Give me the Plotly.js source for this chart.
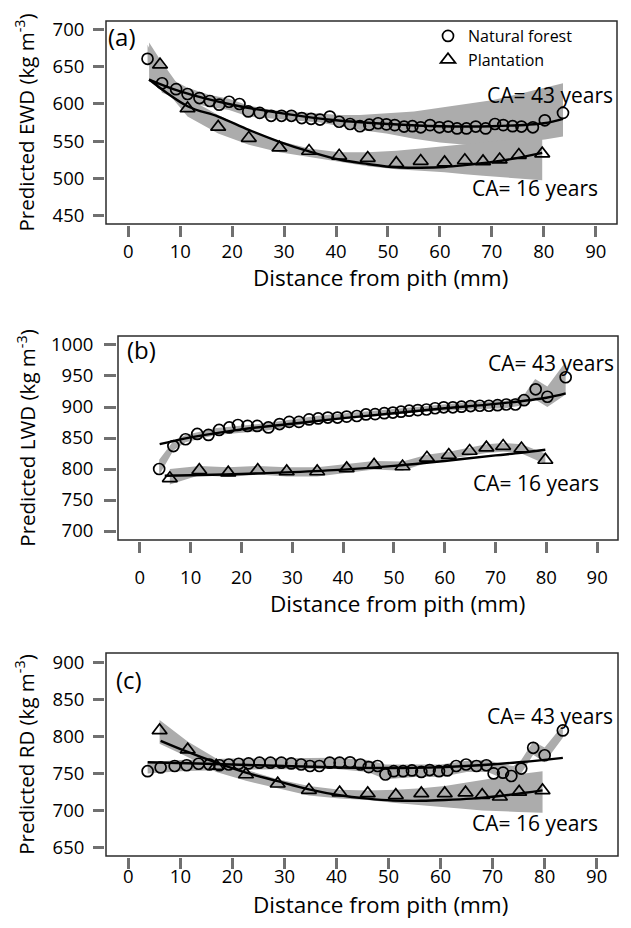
<!DOCTYPE html>
<html><head><meta charset="utf-8">
<script src="https://cdn.plot.ly/plotly-3.0.1.min.js"></script>
<style>html,body{margin:0;padding:0;background:#fff}#chart{width:631px;height:928px}</style>
</head><body><div id="chart"></div>
<script>
// ---------- Panel (a): earlywood density ----------
const a_nf_x = [3.7,6.5,9.2,11.4,13.7,15.7,17.5,19.4,21.4,23.1,25.3,27.5,29.5,31.4,33.4,35.2,36.9,38.8,40.6,42.7,44.6,46.4,48.1,49.7,51.3,53.1,54.7,56.3,58.1,59.9,61.6,63.3,65.1,66.9,68.8,70.6,72.2,74.0,75.7,77.9,80.2,83.7];
const a_nf_y = [661,628,620,613.5,608,604,599,603,600,590,588,584,584,584,581,580,579,583,576,573,570,572,574,572.5,571.5,569.5,570,568.5,571.5,568.5,569.5,567,567,569.5,567,573,571.5,570,569.5,568.5,578,588];
const a_nf_fit_x = [4,10,20,30,40,50,60,70,80,83.7];
const a_nf_fit_y = [633,617,599,587,578,573,570,570,574,580];
const a_nf_band_x = [3.7,6.5,9.2,11.4,15.7,19.4,23.1,27.5,31.4,36.9,40.6,44.6,49.7,55,60,65,70,75,80.2,83.7];
const a_nf_band_hi = [680,640,630,622,612,607,598,592,590,587,585,585,587,590,595,600,605,613,622,628];
const a_nf_band_lo = [655,615,608,602,596,592,583,580,578,575,570,565,560,553,548,545,545,548,552,556];
const a_pl_x = [6.1,11.4,17.3,23.2,29.1,34.8,40.6,46.1,51.6,56.3,60.9,64.8,68.3,71.5,75.2,79.7];
const a_pl_y = [653,594,569,554,541,536.5,530,527,520,523,521,524,522.5,525,531,533];
const a_pl_fit_x = [4,11.4,17.3,23.2,29.1,34.8,40.6,46.1,51.6,56.3,60.9,64.8,71.5,79.7];
const a_pl_fit_y = [633,597,583,565,549,536,525,519,514.5,514,515,517.5,523,534];
const a_pl_band_x = [4,6.1,11.4,17.3,23.2,29.1,34.8,40.6,46.1,51.6,56.3,60.9,64.8,68.3,71.5,75.2,79.7];
const a_pl_band_hi = [683,660,608,585,565,550,540,535,535,537,540,543,546,548,550,553,556];
const a_pl_band_lo = [630,628,583,560,545,535,528,522,516,512,510,508,505,503,501,499,497];

// ---------- Panel (b): latewood density ----------
const b_nf_x = [3.8,6.6,9.0,11.3,13.5,15.6,17.6,19.3,21.2,23.1,25.3,27.5,29.4,31.3,33.3,35.1,37.0,38.9,40.7,42.7,44.5,46.3,48.1,49.8,51.4,53.0,54.7,56.4,58.1,59.8,61.6,63.3,65.1,66.9,68.7,70.4,72.1,73.9,75.6,77.9,80.2,83.8];
const b_nf_y = [800,837,848,856.5,855,863,867,871,869.5,869.5,867,872.5,876,876,880,881.5,883,883,884.5,885.5,888,888.5,890,891,892.5,894,895,896,898,899.5,899.5,900.5,901.5,902,902,903,904,904,911,928.5,916.5,948];
const b_nf_fit_x = [3.9,10,20,30,40,50,60,70,80,83.8];
const b_nf_fit_y = [840,851,864,873,882,890,898,905,915,922];
const b_nf_band_x = [3.8,6.6,9,15,25,35,45,55,65,72,75.5,77.8,80.2,83.8];
const b_nf_band_hi = [815,845,855,866,874,886,893,901,908,910,918,945,933,973];
const b_nf_band_lo = [790,830,843,855,862,876,884,892,896,898,903,912,900,920];
const b_pl_x = [5.9,11.7,17.4,23.2,28.9,34.9,40.7,46.1,51.7,56.5,60.8,64.9,68.2,71.5,75.1,79.8];
const b_pl_y = [785,798,794,798,796,796,801,806.5,804,818,822.5,829,834.5,837,833,814.5];
const b_pl_fit_x = [4.9,10,20,30,40,50,60,70,75,79.8];
const b_pl_fit_y = [789,790,792,795,799,805,813,822,826,831];
const b_pl_band_x = [5.9,11.7,17.4,23.2,28.9,34.9,40.7,46.1,51.7,56.5,60.8,64.9,68.2,71.5,75.1,79.8];
const b_pl_band_hi = [800,805,803,805,803,803,808,813,812,823,828,835,840,842,840,825];
const b_pl_band_lo = [775,790,787,791,788,788,794,799,797,810,816,822,826,828,825,808];

// ---------- Panel (c): ring density ----------
const c_nf_x = [3.7,6.2,8.9,11.2,13.5,15.6,17.5,19.3,21.2,23.1,25.2,27.3,29.4,31.3,33.2,34.9,36.7,38.7,40.6,42.6,44.6,46.2,47.9,49.4,51.0,52.8,54.5,56.3,57.9,59.7,61.3,63.0,64.9,66.9,68.8,70.2,72.0,73.6,75.5,77.8,80.0,83.5];
const c_nf_y = [753,758,760,761,763,762,761,762,763,763.5,764.5,764.5,764.5,763.5,762,760,760,764.5,764.5,765,762,758.5,760,748.5,753,753,754,752,754.5,753,754,760,762,760,761,750,751,746.5,756.5,784.5,774.5,808];
const c_nf_fit_x = [3.7,15,30,45,55,65,75,83.5];
const c_nf_fit_y = [765,763,760,757.5,757.5,760,765,771];
const c_nf_band_x = [3.7,10,20,30,40,46,49.4,55,60,65,69,72,74,75.5,77.8,80,83.5];
const c_nf_band_hi = [765,768,770,771,771,768,762,762,762,767,768,762,760,768,793,785,815];
const c_nf_band_lo = [750,753,755,756,756,752,742,745,745,752,752,743,740,750,775,765,798];
const c_pl_x = [6.0,11.4,16.9,22.6,28.7,34.7,40.6,46.0,51.4,56.3,60.8,64.8,68.0,71.4,75.1,79.6];
const c_pl_y = [808,782,760,748.5,736,727.5,724,723,720.5,723,723,724,720.5,718.5,725,727];
const c_pl_fit_x = [6.2,11.4,16.9,22.6,28.7,34.7,40.6,46,50.8,56.3,60.8,66,71.3,79.6];
const c_pl_fit_y = [794,779,764.5,751,739.5,728.5,720.5,716,713.5,713,714,716,719.5,727];
const c_pl_band_x = [6,11.4,16.9,22.6,28.7,34.7,40.6,46,51.4,56.3,60.8,64.8,68,71.4,75,79.6];
const c_pl_band_hi = [822,793,770,755,742,733,728,727,728,730,733,737,741,745,749,753];
const c_pl_band_lo = [790,772,752,740,730,720,716,714,710,707,704,702,700,699,698,697];

// ---------- Axis / text ----------
const x_ticks = [0,10,20,30,40,50,60,70,80,90];
const a_y_ticks = [450,500,550,600,650,700];
const b_y_ticks = [700,750,800,850,900,950,1000];
const c_y_ticks = [650,700,750,800,850,900];
const panel_labels = ['(a)','(b)','(c)'];
const y_titles = ['Predicted EWD (kg m<sup>-3</sup>)','Predicted LWD (kg m<sup>-3</sup>)','Predicted RD (kg m<sup>-3</sup>)'];
const x_title = 'Distance from pith (mm)';
const series_names = ['Natural forest','Plantation'];
const ca_labels = ['CA= 43 years','CA= 16 years'];

// ---------- Build ----------
const W = 631, H = 928;
const PX = v => v / W, PY = v => 1 - v / H;
const GREY = '#acacac';
const FONT = 'Open Sans, Noto Sans, sans-serif';

const panels = [
  {nf:[a_nf_x,a_nf_y], nff:[a_nf_fit_x,a_nf_fit_y], nfb:[a_nf_band_x,a_nf_band_hi,a_nf_band_lo],
   pl:[a_pl_x,a_pl_y], plf:[a_pl_fit_x,a_pl_fit_y], plb:[a_pl_band_x,a_pl_band_hi,a_pl_band_lo],
   yt:a_y_ticks, yr:[438,712], box:{l:106,r:617,t:21,b:224}, ytickpos:104, ticklenY:11,
   xls:-1, yls:5, yts:11, xt:{x:380,y:278},
   lab:{x:106,y:36}, ca43:{x:485,y:95}, ca16:{x:470,y:188}},
  {nf:[b_nf_x,b_nf_y], nff:[b_nf_fit_x,b_nf_fit_y], nfb:[b_nf_band_x,b_nf_band_hi,b_nf_band_lo],
   pl:[b_pl_x,b_pl_y], plf:[b_pl_fit_x,b_pl_fit_y], plb:[b_pl_band_x,b_pl_band_hi,b_pl_band_lo],
   yt:b_y_ticks, yr:[685.5,1014.5], box:{l:118,r:618,t:336,b:540}, ytickpos:116, ticklenY:12,
   xls:9, yls:7, yts:8, xt:{x:398,y:603},
   lab:{x:125,y:349}, ca43:{x:486,y:363}, ca16:{x:471,y:483}},
  {nf:[c_nf_x,c_nf_y], nff:[c_nf_fit_x,c_nf_fit_y], nfb:[c_nf_band_x,c_nf_band_hi,c_nf_band_lo],
   pl:[c_pl_x,c_pl_y], plf:[c_pl_fit_x,c_pl_fit_y], plb:[c_pl_band_x,c_pl_band_hi,c_pl_band_lo],
   yt:c_y_ticks, yr:[638.5,912.5], box:{l:106,r:618,t:653,b:856}, ytickpos:104, ticklenY:11,
   xls:-8, yls:5, yts:11, xt:{x:380,y:904},
   lab:{x:114,y:679}, ca43:{x:485,y:716}, ca16:{x:470,y:823}}
];

const traces = [];
const layout = {
  width: W, height: H, margin:{l:0,r:0,t:0,b:0},
  paper_bgcolor:'#fff', plot_bgcolor:'rgba(0,0,0,0)',
  font:{family:FONT, color:'#000', size:17},
  showlegend:true,
  legend:{x:PX(428), y:PY(19), xanchor:'left', yanchor:'top', bgcolor:'rgba(0,0,0,0)',
          font:{size:16, family:FONT, color:'#000'}, tracegroupgap:0, itemsizing:'trace'},
  shapes:[], annotations:[]
};

panels.forEach((p, i) => {
  const n = i === 0 ? '' : String(i + 1);
  const xa = 'x' + n, ya = 'y' + n;
  const band = (b) => ({x: b[0].concat(b[0].slice().reverse()), y: b[1].concat(b[2].slice().reverse()),
    xaxis:xa, yaxis:ya, mode:'lines', fill:'toself', fillcolor:GREY, line:{width:0, color:GREY},
    hoverinfo:'skip', showlegend:false});
  traces.push(band(p.nfb), band(p.plb));
  traces.push({x:p.nff[0], y:p.nff[1], xaxis:xa, yaxis:ya, mode:'lines', line:{color:'#000', width:2.4, shape:'spline', smoothing:1}, showlegend:false, hoverinfo:'skip'});
  traces.push({x:p.plf[0], y:p.plf[1], xaxis:xa, yaxis:ya, mode:'lines', line:{color:'#000', width:2.4, shape:'spline', smoothing:1}, showlegend:false, hoverinfo:'skip'});
  traces.push({x:p.nf[0], y:p.nf[1], xaxis:xa, yaxis:ya, mode:'markers', name:series_names[0],
    marker:{symbol:'circle-open', size:11, color:'#000', line:{width:1.7, color:'#000'}}, showlegend:i===0});
  traces.push({x:p.pl[0], y:p.pl[1], xaxis:xa, yaxis:ya, mode:'markers', name:series_names[1],
    marker:{symbol:'triangle-up-open', size:13, color:'#000', line:{width:1.7, color:'#000'}}, showlegend:i===0});

  const b = p.box;
  layout['xaxis' + n] = {
    domain:[PX(b.l), PX(b.r)], anchor:'free', position:PY(b.b + 1), range:[-4.3, 94.1],
    tickmode:'array', tickvals:x_ticks, ticktext:x_ticks.map(String),
    ticks:'outside', ticklen:11, tickwidth:3, tickcolor:'#707070', ticklabelstandoff:p.xls,
    showline:false, showgrid:false, zeroline:false, fixedrange:true,
    tickfont:{size:18.5, family:FONT, color:'#000'}
  };
  layout['yaxis' + n] = {
    domain:[PY(b.b), PY(b.t)], anchor:'free', position:PX(p.ytickpos), range:p.yr,
    tickmode:'array', tickvals:p.yt, ticktext:p.yt.map(String),
    ticks:'outside', ticklen:p.ticklenY, tickwidth:3, tickcolor:'#707070', ticklabelstandoff:p.yls,
    showline:false, showgrid:false, zeroline:false, fixedrange:true,
    tickfont:{size:18.5, family:FONT, color:'#000'},
    title:{text:y_titles[i], font:{size:20.5, family:FONT, color:'#000'}, standoff:p.yts}
  };
  layout.shapes.push({type:'rect', xref:xa + ' domain', yref:ya + ' domain', x0:0, x1:1, y0:0, y1:1,
    line:{color:'#2b2b2b', width:1.5}, layer:'above'});
  layout.annotations.push(
    {text:x_title, xref:'paper', yref:'paper', x:PX(p.xt.x), y:PY(p.xt.y), xanchor:'center', yanchor:'middle', showarrow:false, font:{size:22.5, family:FONT, color:'#000'}},
    {text:panel_labels[i], xref:'paper', yref:'paper', x:PX(p.lab.x), y:PY(p.lab.y), xanchor:'left', yanchor:'middle', showarrow:false, font:{size:24, family:FONT, color:'#000'}},
    {text:ca_labels[0], xref:'paper', yref:'paper', x:PX(p.ca43.x), y:PY(p.ca43.y), xanchor:'left', yanchor:'middle', showarrow:false, font:{size:21, family:FONT, color:'#000'}},
    {text:ca_labels[1], xref:'paper', yref:'paper', x:PX(p.ca16.x), y:PY(p.ca16.y), xanchor:'left', yanchor:'middle', showarrow:false, font:{size:21, family:FONT, color:'#000'}}
  );
});

Plotly.newPlot('chart', traces, layout, {displayModeBar:false, staticPlot:true});
</script></body></html>
